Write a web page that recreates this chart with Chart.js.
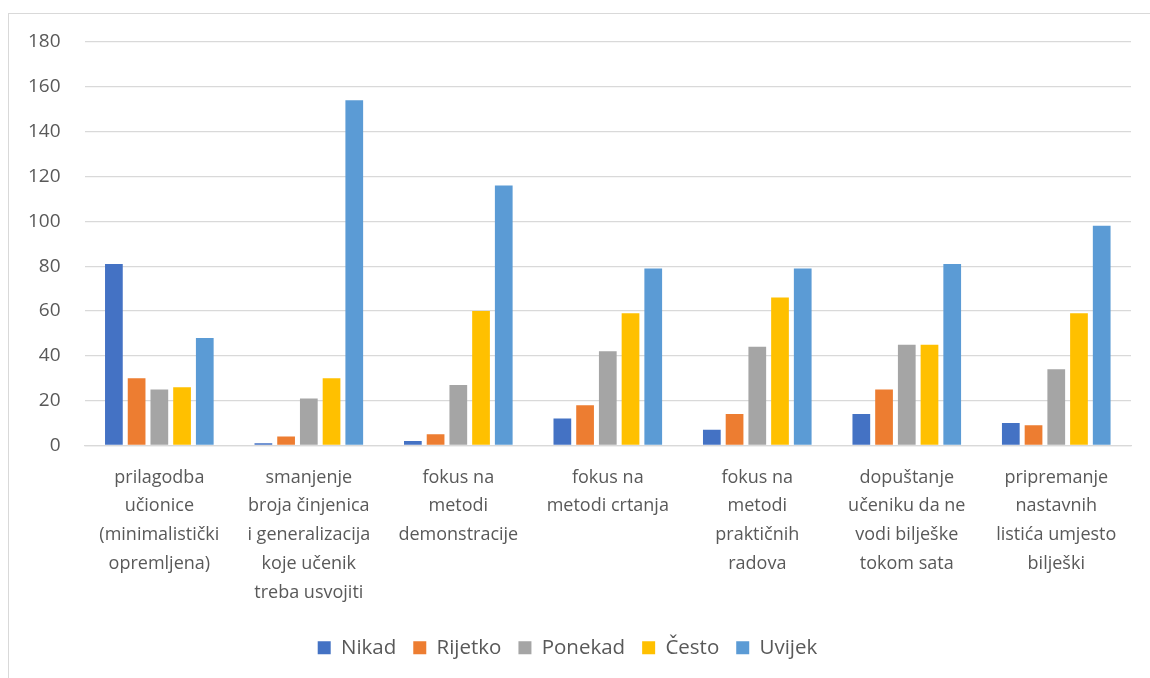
<!DOCTYPE html>
<html>
<head>
<meta charset="utf-8">
<script src="https://cdn.jsdelivr.net/npm/chart.js@4.4.0/dist/chart.umd.min.js"></script>
<style>
    html, body { margin: 0; padding: 0; background: #fff; overflow: hidden; }
    #frame {
        position: absolute;
        left: 8px;
        top: 13px;
        width: 1150px;
        height: 680px;
        border-left: 1px solid #d9d9d9;
        border-top: 1px solid #d9d9d9;
    }
    #wrap { position: absolute; left: 0; top: 0; width: 1150px; height: 678px; }
</style>
</head>
<body>
<div id="frame"></div>
<div id="wrap"><canvas id="responsesChart"></canvas></div>
<script>
const categories = [
    ["prilagodba", "učionice", "(minimalistički", "opremljena)"],
    ["smanjenje", "broja činjenica", "i generalizacija", "koje učenik", "treba usvojiti"],
    ["fokus na", "metodi", "demonstracije"],
    ["fokus na", "metodi crtanja"],
    ["fokus na", "metodi", "praktičnih", "radova"],
    ["dopuštanje", "učeniku da ne", "vodi bilješke", "tokom sata"],
    ["pripremanje", "nastavnih", "listića umjesto", "bilješki"],
];

const nikad = [81, 1, 2, 12, 7, 14, 10];
const rijetko = [30, 4, 5, 18, 14, 25, 9];
const ponekad = [25, 21, 27, 42, 44, 45, 34];
const cesto = [26, 30, 60, 59, 66, 45, 59];
const uvijek = [48, 154, 116, 79, 79, 81, 98];

const yTicks = [0, 20, 40, 60, 80, 100, 120, 140, 160, 180];

const textColor = "#595959";
const fontFamily = "'Open Sans', 'Liberation Sans', sans-serif";

function series(label, data, color) {
    return {
        label: label,
        data: data,
        backgroundColor: color,
        borderWidth: 0,
        barPercentage: 0.78,
        categoryPercentage: 0.76,
    };
}

new Chart(document.getElementById("responsesChart"), {
    type: "bar",
    data: {
        labels: categories,
        datasets: [
            series("Nikad", nikad, "#4472C4"),
            series("Rijetko", rijetko, "#ED7D31"),
            series("Ponekad", ponekad, "#A5A5A5"),
            series("Često", cesto, "#FFC000"),
            series("Uvijek", uvijek, "#5B9BD5"),
        ],
    },
    options: {
        responsive: true,
        maintainAspectRatio: false,
        animation: false,
        layout: { padding: { left: 4, right: 19, top: 42, bottom: 10 } },
        plugins: {
            legend: {
                position: "bottom",
                labels: {
                    boxWidth: 13,
                    boxHeight: 13,
                    padding: 17,
                    color: textColor,
                    font: { family: fontFamily, size: 20.5 },
                },
            },
            tooltip: { enabled: false },
        },
        scales: {
            y: {
                min: 0,
                max: 180,
                afterBuildTicks: (axis) => {
                    axis.ticks = yTicks.map((v) => ({ value: v }));
                },
                border: { display: false },
                grid: { color: "#d9d9d9", lineWidth: 1.3, drawTicks: false },
                ticks: {
                    padding: 24,
                    color: textColor,
                    font: { family: fontFamily, size: 19 },
                },
            },
            x: {
                // leave a bit more room between the labels and the legend
                afterFit: (scale) => {
                    scale.height += 4;
                },
                border: { color: "#d9d9d9", width: 1.3 },
                grid: { display: false },
                ticks: {
                    maxRotation: 0,
                    autoSkip: false,
                    padding: 9.5,
                    color: textColor,
                    font: { family: fontFamily, size: 18, lineHeight: 1.6 },
                },
            },
        },
    },
});
</script>
</body>
</html>
